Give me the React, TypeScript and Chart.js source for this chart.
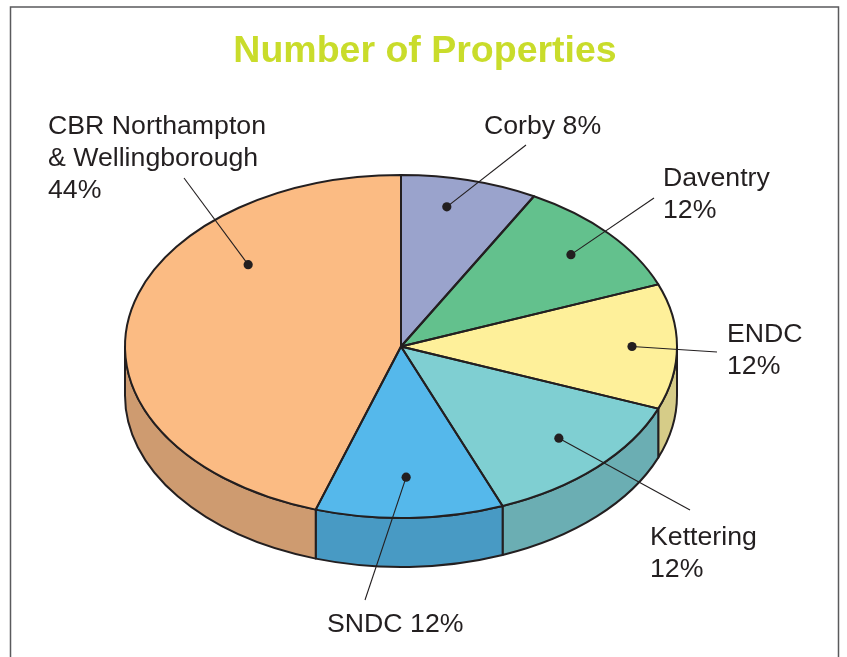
import React, { useEffect, useRef } from "react";
import { Chart, registerables } from "chart.js";

Chart.register(...registerables);

const categories = ["Corby", "Daventry", "ENDC", "Kettering", "SNDC", "CBR Northampton & Wellingborough"];
// Slice sizes as drawn in the picture (share of the full turn, %)
const drawnShares = [8, 11.1, 11.8, 13.1, 11, 45];
const labelLines = [
  ["Corby 8%"],
  ["Daventry", "12%"],
  ["ENDC", "12%"],
  ["Kettering", "12%"],
  ["SNDC 12%"],
  ["CBR Northampton", "& Wellingborough", "44%"],
];
const topColors = ["#9AA3CC", "#63C18D", "#FEF09A", "#7FCFD2", "#55B8EB", "#FBBB83"];
const wallColors = ["#7F87AA", "#529F75", "#D6CC88", "#6BAEB3", "#489AC4", "#CE9B70"];

const TITLE = "Number of Properties";
const INK = "#231F20";
const TILT = 171.5 / 276;
const DEPTH = 49;
const LABEL_FONT = '26.7px "Liberation Sans", Arial, sans-serif';
const LINE_GAP = 32;

// Callout layout, one entry per slice
const labelAt = [
  { x: 484, y: 134 },
  { x: 663, y: 186 },
  { x: 727, y: 342 },
  { x: 650, y: 545 },
  { x: 327, y: 632 },
  { x: 48, y: 134 },
];
const leaderEnd = [
  { x: 526, y: 145 },
  { x: 654, y: 198 },
  { x: 717, y: 352 },
  { x: 690, y: 510 },
  { x: 365, y: 600 },
  { x: 184, y: 178 },
];
// Where the dot sits inside the slice: fraction along the sweep, fraction of radius
const dotSweep = [0.4, 0.505, 0.5, 0.463, 0.51, 0.696];
const dotRadius = [0.831, 0.816, 0.837, 0.783, 0.762, 0.731];

const piePlugin = {
  id: "pie3d",
  afterLayout(chart: any) {
    if (chart.titleBlock) {
      chart.titleBlock.left = 0;
      chart.titleBlock.right = 850;
    }
  },
  beforeDraw(chart: any) {
    const ctx = chart.ctx;
    ctx.save();
    ctx.fillStyle = "#FFFFFF";
    ctx.fillRect(0, 0, chart.width, chart.height);
    ctx.strokeStyle = "#5A5A5C";
    ctx.lineWidth = 1.5;
    ctx.beginPath();
    ctx.moveTo(10.5, chart.height);
    ctx.lineTo(10.5, 7);
    ctx.lineTo(838.5, 7);
    ctx.lineTo(838.5, chart.height);
    ctx.stroke();
    ctx.restore();
  },
  beforeDatasetsDraw(chart: any) {
    const ctx = chart.ctx;
    const arcs = chart.getDatasetMeta(0).data;
    arcs.forEach((arc: any, i: number) => {
      const { x, y, startAngle, endAngle, outerRadius } = arc.getProps(
        ["x", "y", "startAngle", "endAngle", "outerRadius"],
        true
      );
      const a = Math.max(startAngle, 0);
      const b = Math.min(endAngle, Math.PI);
      if (b <= a) return;
      const ry = outerRadius * TILT;
      ctx.save();
      ctx.beginPath();
      ctx.ellipse(x, y, outerRadius, ry, 0, a, b, false);
      ctx.ellipse(x, y + DEPTH, outerRadius, ry, 0, b, a, true);
      ctx.closePath();
      ctx.fillStyle = wallColors[i];
      ctx.fill();
      ctx.lineWidth = 2;
      ctx.lineJoin = "round";
      ctx.strokeStyle = INK;
      ctx.stroke();
      ctx.restore();
    });
  },
  beforeDatasetDraw(chart: any) {
    const ctx = chart.ctx;
    const arc = chart.getDatasetMeta(0).data[0];
    ctx.save();
    ctx.translate(arc.x, arc.y);
    ctx.scale(1, TILT);
    ctx.translate(-arc.x, -arc.y);
  },
  afterDatasetDraw(chart: any) {
    chart.ctx.restore();
  },
  afterDatasetsDraw(chart: any) {
    const ctx = chart.ctx;
    const arcs = chart.getDatasetMeta(0).data;
    ctx.save();
    ctx.strokeStyle = INK;
    ctx.lineWidth = 2;
    ctx.lineJoin = "round";
    arcs.forEach((arc: any) => {
      const { x, y, startAngle, endAngle, outerRadius } = arc.getProps(
        ["x", "y", "startAngle", "endAngle", "outerRadius"],
        true
      );
      ctx.beginPath();
      ctx.moveTo(x, y);
      ctx.ellipse(x, y, outerRadius, outerRadius * TILT, 0, startAngle, endAngle, false);
      ctx.closePath();
      ctx.stroke();
    });
    arcs.forEach((arc: any, i: number) => {
      const { x, y, startAngle, endAngle, outerRadius } = arc.getProps(
        ["x", "y", "startAngle", "endAngle", "outerRadius"],
        true
      );
      const angle = startAngle + dotSweep[i] * (endAngle - startAngle);
      const r = dotRadius[i] * outerRadius;
      const dx = x + r * Math.cos(angle);
      const dy = y + r * Math.sin(angle) * TILT;
      ctx.lineWidth = 1.1;
      ctx.beginPath();
      ctx.moveTo(leaderEnd[i].x, leaderEnd[i].y);
      ctx.lineTo(dx, dy);
      ctx.stroke();
      ctx.fillStyle = INK;
      ctx.beginPath();
      ctx.arc(dx, dy, 4.6, 0, Math.PI * 2);
      ctx.fill();
    });
    ctx.font = LABEL_FONT;
    ctx.fillStyle = INK;
    ctx.textAlign = "left";
    ctx.textBaseline = "alphabetic";
    labelLines.forEach((lines, i) => {
      lines.forEach((line, k) => {
        ctx.fillText(line, labelAt[i].x, labelAt[i].y + k * LINE_GAP);
      });
    });
    ctx.restore();
  },
};

export default function App() {
  const ref = useRef<HTMLCanvasElement | null>(null);
  useEffect(() => {
    const chart = new Chart(ref.current as HTMLCanvasElement, {
      type: "pie",
      data: {
        labels: categories,
        datasets: [
          {
            data: drawnShares,
            backgroundColor: topColors,
            borderWidth: 0,
          },
        ],
      },
      options: {
        responsive: false,
        animation: false,
        rotation: 0,
        layout: { padding: { left: 125, right: 170, top: 0, bottom: 34.5 } },
        plugins: {
          legend: { display: false },
          tooltip: { enabled: false },
          title: {
            display: true,
            text: TITLE,
            color: "#C9DC2B",
            align: "center",
            font: { family: '"Liberation Sans", Arial, sans-serif', size: 37.5, weight: "bold", lineHeight: 1 },
            padding: { top: 33, bottom: 0 },
          },
        },
      },
      plugins: [piePlugin],
    } as any);
    return () => chart.destroy();
  }, []);
  return (
    <div style={{ position: "absolute", left: 0, top: 0 }}>
      <canvas ref={ref} width={847} height={657} style={{ display: "block" }} />
    </div>
  );
}
